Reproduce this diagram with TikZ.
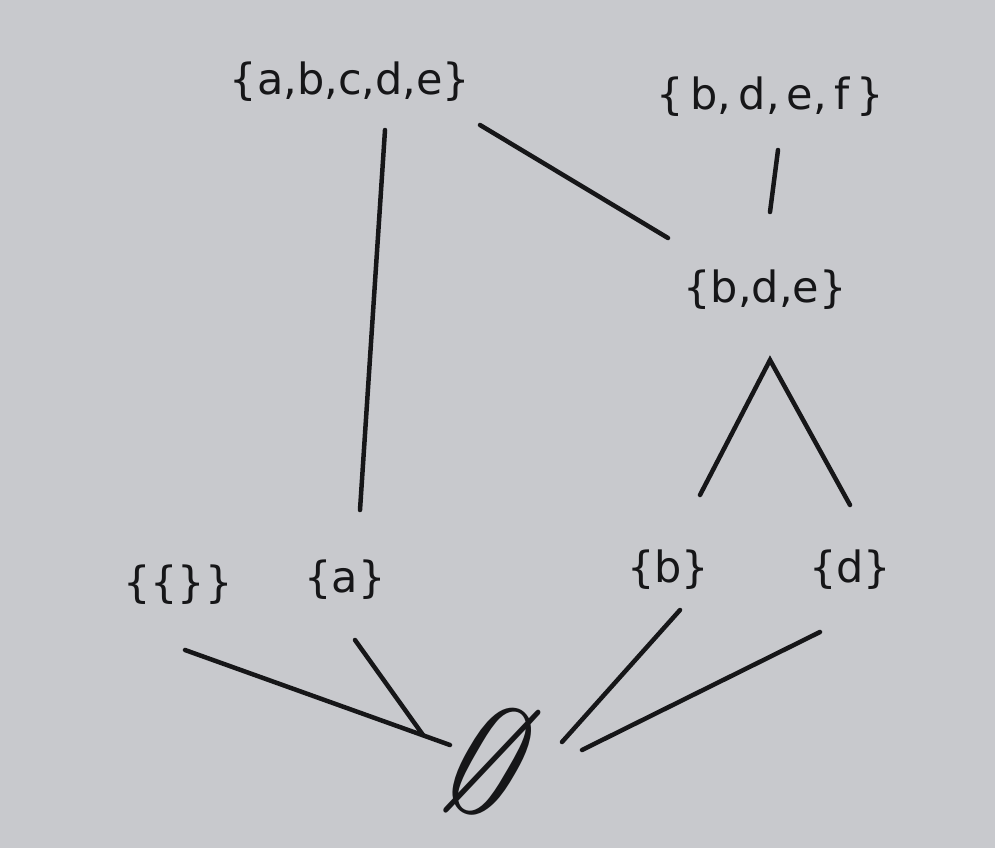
\documentclass[tikz,border=0pt]{standalone}
\usepackage{fontspec}
\setmainfont{DejaVu Sans}
\usetikzlibrary{calc}
\definecolor{paper}{RGB}{200,201,205}
\definecolor{ink}{RGB}{22,22,24}
\tikzset{
  setnode/.style={inner sep=0pt, text=ink, font=\fontsize{43}{50}\selectfont},
  edge/.style={draw=ink, line width=4.5pt, line cap=round}
}
\begin{document}
\begin{tikzpicture}[x=1pt,y=-1pt]
\fill[paper] (0,0) rectangle (995,848);
\useasboundingbox (0,0) rectangle (995,848);
\node[setnode] (abcde) at (350,82) {\{a,b,c,d,e\}};
\node[setnode] (bdef) at (770,97) {\{\,b,\,d,\,e,\,f\,\}};
\node[setnode] (bde) at (765,290) {\{b,d,e\}};
\node[setnode] (ee) at (178,585) {\{\{\}\}};
\node[setnode] (a) at (345,580) {\{a\}};
\node[setnode] (b) at (668,570) {\{b\}};
\node[setnode] (d) at (850,570) {\{d\}};
\node[setnode, font=\normalsize, rotate=-30] (empty) at (492,762) {\scalebox{13}[16]{$\emptyset$}};
\draw[edge] ($(abcde)+(35,48)$) -- ($(a)+(15,-70)$);
\draw[edge] ($(abcde)+(130,43)$) -- ($(bde)+(-97,-52)$);
\draw[edge] ($(bdef)+(8,53)$) -- ($(bde)+(5,-78)$);
\draw[edge] ($(b)+(32,-75)$) -- ($(bde)+(5,70)$) -- ($(d)+(0,-65)$);
\draw[edge] ($(ee)+(7,65)$) -- ($(empty)+(-42,-17)$);
\draw[edge] ($(a)+(10,60)$) -- ($(empty)+(-69,-27)$);
\draw[edge] ($(b)+(12,40)$) -- ($(empty)+(70,-20)$);
\draw[edge] ($(d)+(-30,62)$) -- ($(empty)+(90,-12)$);
\end{tikzpicture}
\end{document}
